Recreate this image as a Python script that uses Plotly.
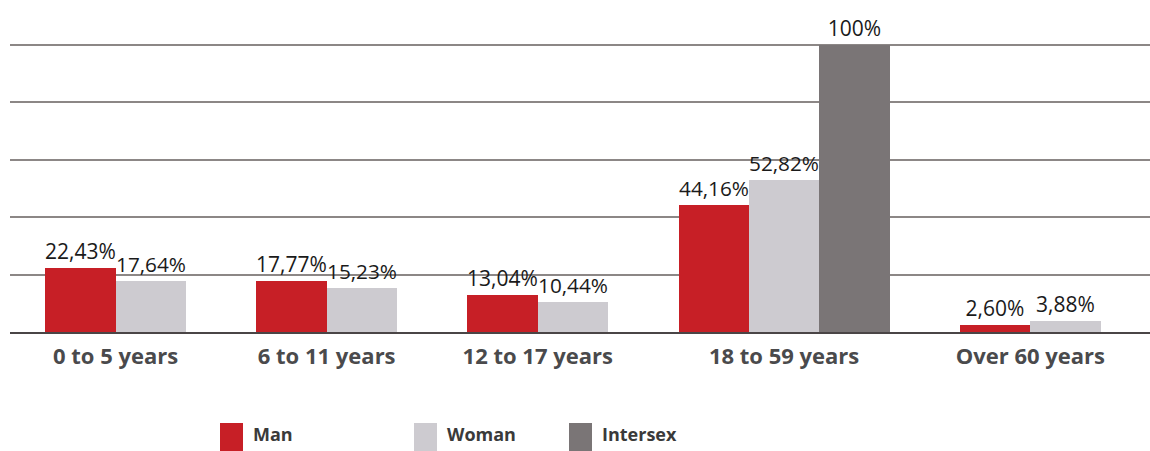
import plotly.graph_objects as go

categories = ["0 to 5 years", "6 to 11 years", "12 to 17 years", "18 to 59 years", "Over 60 years"]
series_names = ["Man", "Woman", "Intersex"]
man = [22.43, 17.77, 13.04, 44.16, 2.60]
woman = [17.64, 15.23, 10.44, 52.82, 3.88]
intersex = [None, None, None, 100, None]
colors = ["#c71f26", "#cdcbd0", "#7a7576"]

series_values = [man, woman, intersex]

def fmt(v):
    if float(v).is_integer():
        return f"{int(v)}%"
    return f"{v:.2f}".replace(".", ",") + "%"

# compute bar slots: bars adjacent within a group, one slot gap between groups
positions = {s: [] for s in range(len(series_names))}
group_centers = []
cursor = 0
for i in range(len(categories)):
    present = [s for s in range(len(series_names)) if series_values[s][i] is not None]
    start = cursor
    for k, s in enumerate(present):
        positions[s].append((start + k, series_values[s][i]))
    group_centers.append(start + (len(present) - 1) / 2)
    cursor = start + len(present) + 1

fig = go.Figure()
for s, name in enumerate(series_names):
    xs = [p[0] for p in positions[s]]
    ys = [p[1] for p in positions[s]]
    fig.add_trace(go.Bar(
        x=xs, y=ys, name=name, width=1.0,
        marker=dict(color=colors[s], line=dict(width=0)),
        text=[fmt(v) for v in ys], textposition="outside",
        textfont=dict(family="Open Sans", size=21, color="#1a1a1a"),
        cliponaxis=False, showlegend=False,
    ))

W, H = 1150, 451
ml, mr, mt, mb = 10, 0, 33, 119
pw = W - ml - mr
ph = H - mt - mb

def px_to_paper_x(px):
    return (px - ml) / pw

def px_to_paper_y(py):
    return (H - mb - py) / ph

# custom legend
legend_x = [220, 414, 569]
shapes = []
annotations = []
for s, name in enumerate(series_names):
    x0 = legend_x[s]
    shapes.append(dict(type="rect", xref="paper", yref="paper",
                       x0=px_to_paper_x(x0), x1=px_to_paper_x(x0 + 23),
                       y0=px_to_paper_y(451), y1=px_to_paper_y(423),
                       fillcolor=colors[s], line=dict(width=0)))
    annotations.append(dict(xref="paper", yref="paper", x=px_to_paper_x(x0 + 31),
                            y=px_to_paper_y(434), xanchor="left", yanchor="middle",
                            text=f"<b>{name}</b>", showarrow=False,
                            font=dict(family="Open Sans", size=18, color="#3a3a3a")))

fig.update_layout(
    width=W, height=H,
    margin=dict(l=ml, r=mr, t=mt, b=mb),
    plot_bgcolor="white", paper_bgcolor="white",
    barmode="overlay",
    bargap=0,
    shapes=shapes,
    annotations=annotations,
    xaxis=dict(
        range=[-1.0, 15.2],
        tickvals=group_centers,
        ticktext=[f"<b>{c}</b>" for c in categories],
        tickfont=dict(family="Open Sans", size=22, color="#4a4a4c"),
        showgrid=False, zeroline=False,
        showline=True, linecolor="#4a4546", linewidth=2,
        ticks="", ticklabelstandoff=4,
        fixedrange=True,
    ),
    yaxis=dict(
        range=[0, 104],
        tickvals=[20, 40, 60, 80, 100],
        showticklabels=False,
        showgrid=True, gridcolor="#8c8786", gridwidth=2,
        zeroline=False, showline=False,
        fixedrange=True,
    ),
)

fig.write_html(
    "out.html",
    config={"displayModeBar": False},
    post_script="document.body.style.margin='0px';document.body.style.overflow='hidden';",
)
